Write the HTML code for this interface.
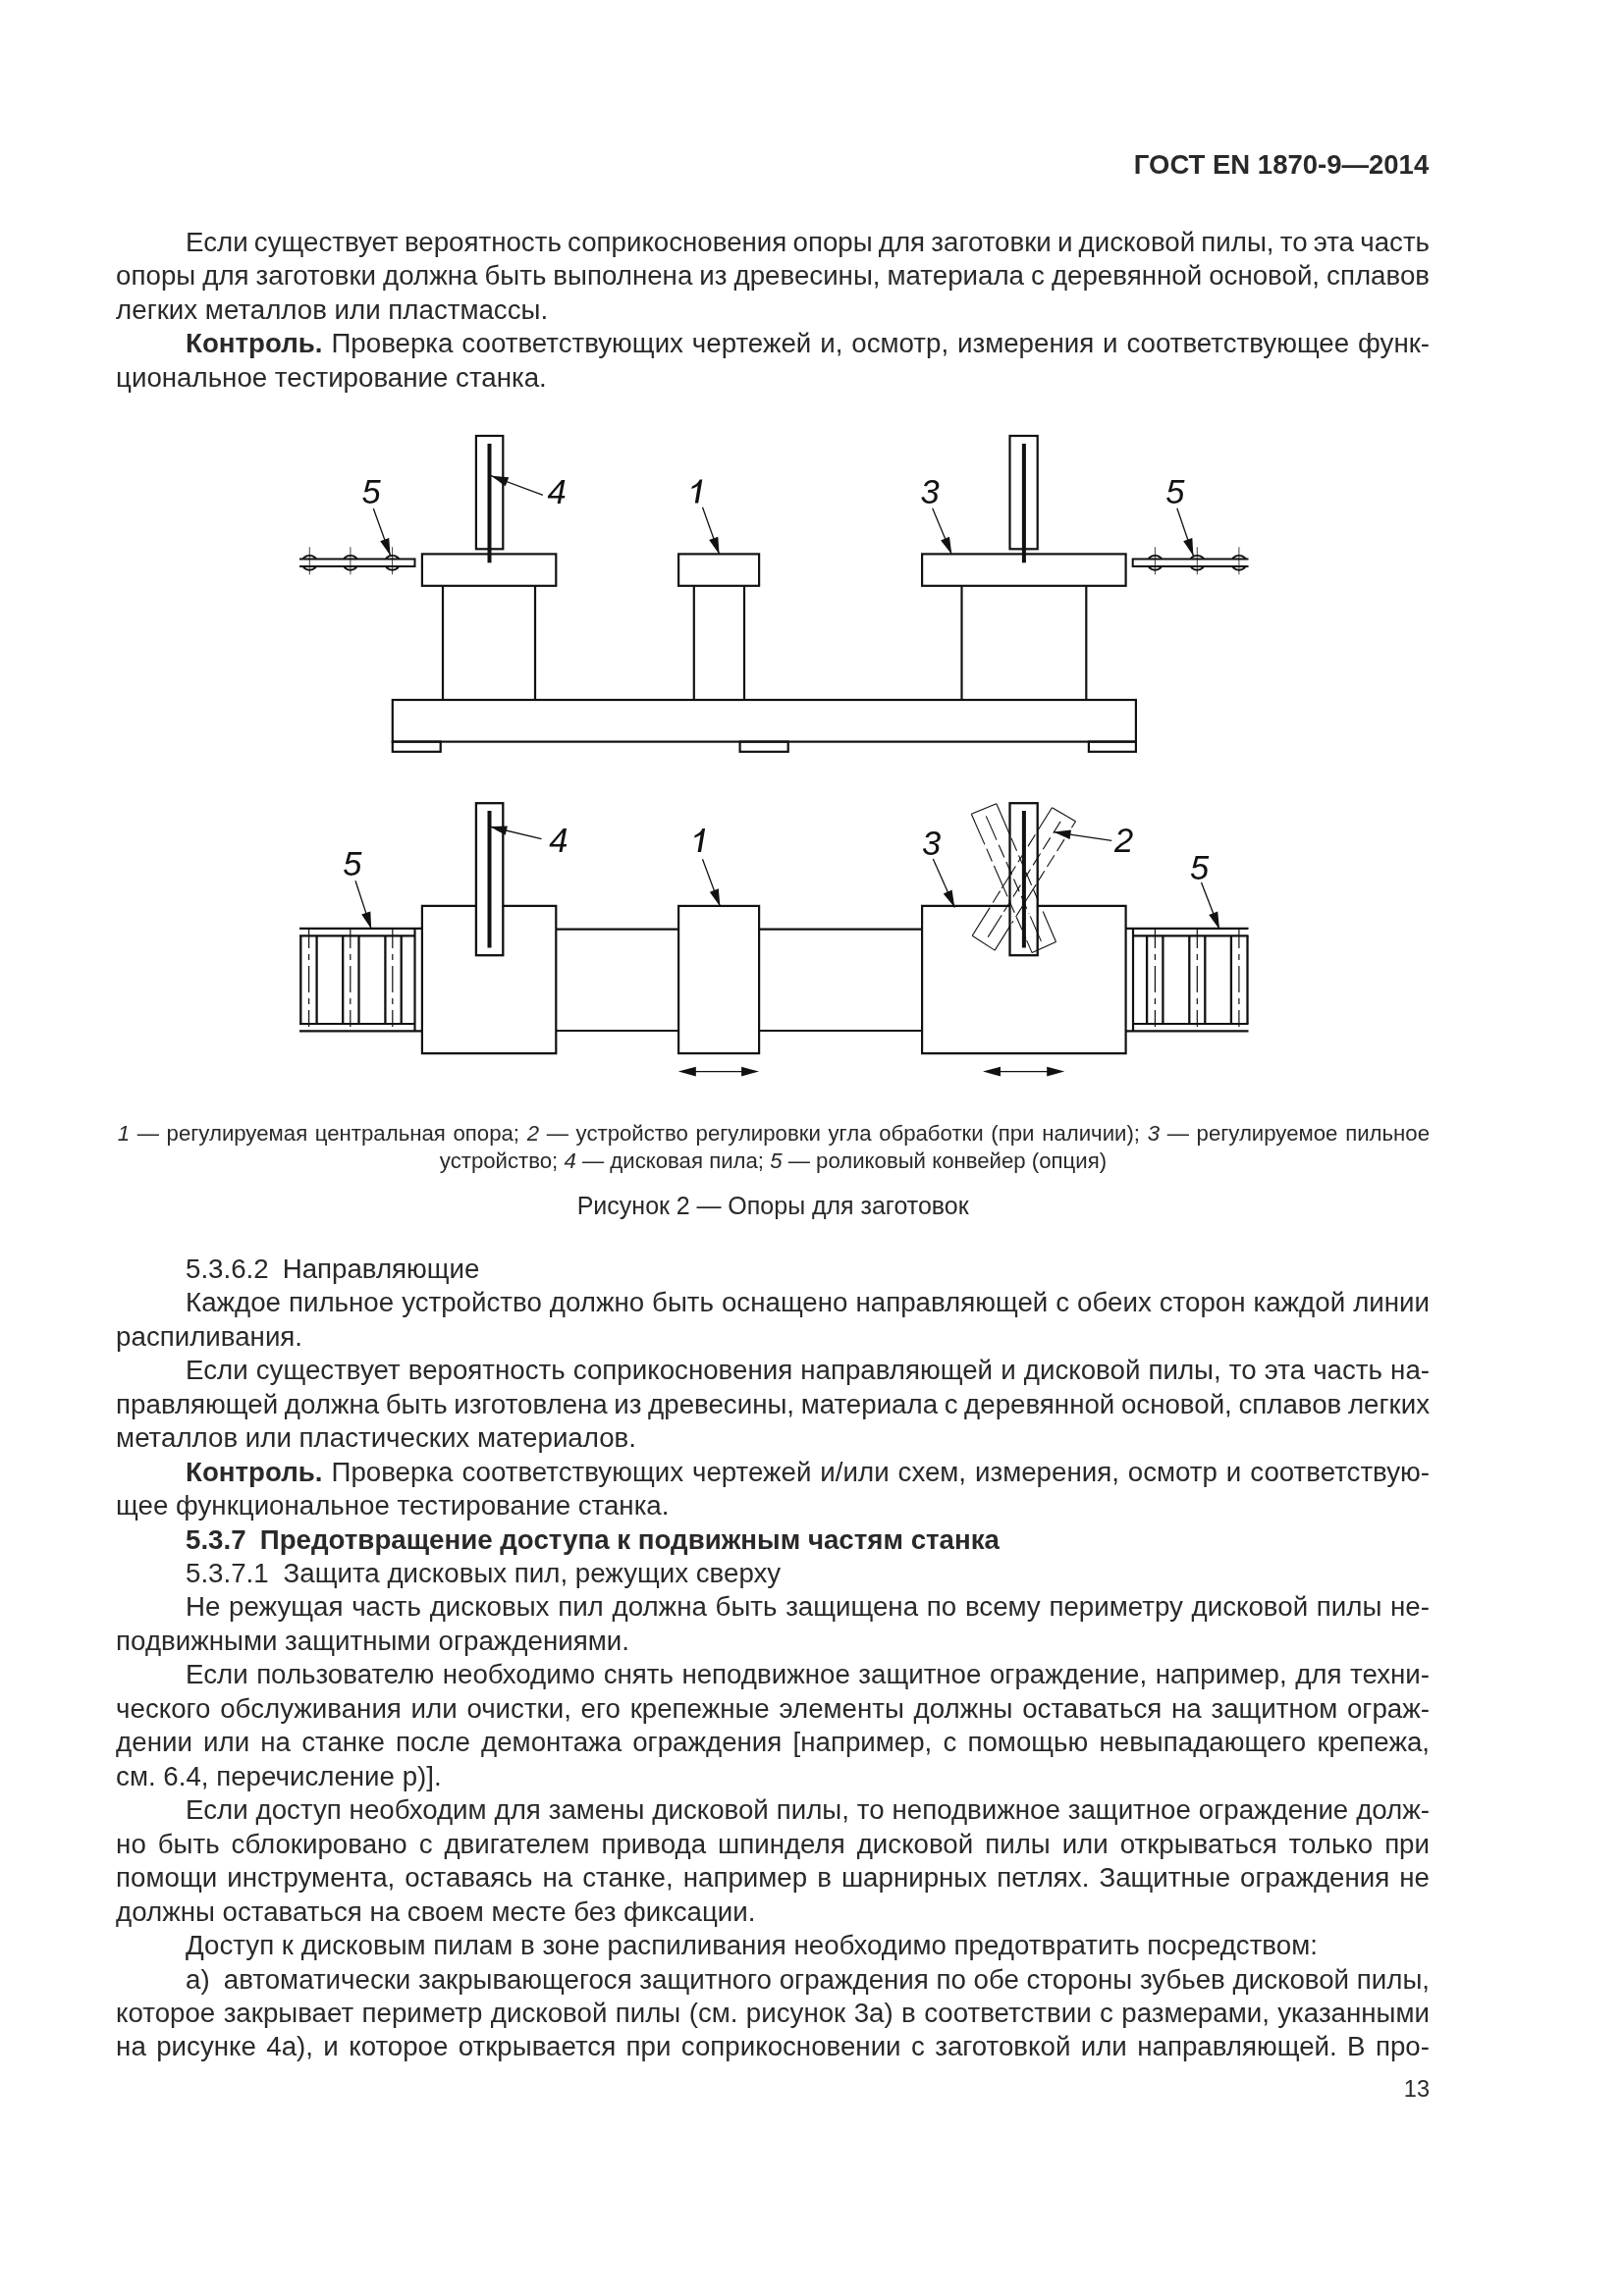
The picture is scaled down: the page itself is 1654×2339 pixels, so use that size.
<!DOCTYPE html>
<html lang="ru"><head><meta charset="utf-8"><title>ГОСТ EN 1870-9—2014</title>
<style>
html,body{margin:0;padding:0;background:#fff;}
body{width:1654px;height:2339px;position:relative;overflow:hidden;font-family:"Liberation Sans",sans-serif;color:#2b2829;}
.ln{position:absolute;white-space:nowrap;line-height:1;margin:0;}
svg{position:absolute;left:0;top:0;}
svg text{font-family:"Liberation Sans",sans-serif;font-style:italic;font-size:34.5px;fill:#111;}
#page{position:absolute;left:0;top:0;width:1654px;height:2339px;will-change:transform;}
</style></head><body><div id="page">
<svg width="1654" height="2339" viewBox="0 0 1654 2339">
<rect x="399.8" y="713.0" width="757.1" height="42.6" fill="none" stroke="#111" stroke-width="2.2"/>
<rect x="399.8" y="755.6" width="48.9" height="10.2" fill="none" stroke="#111" stroke-width="2.2"/>
<rect x="753.6" y="755.6" width="49.1" height="10.2" fill="none" stroke="#111" stroke-width="2.2"/>
<rect x="1108.9" y="755.6" width="48.0" height="10.2" fill="none" stroke="#111" stroke-width="2.2"/>
<line x1="451.0" y1="596.8" x2="451.0" y2="713.0" stroke="#111" stroke-width="2.2" />
<line x1="545.0" y1="596.8" x2="545.0" y2="713.0" stroke="#111" stroke-width="2.2" />
<line x1="706.8" y1="596.8" x2="706.8" y2="713.0" stroke="#111" stroke-width="2.2" />
<line x1="758.0" y1="596.8" x2="758.0" y2="713.0" stroke="#111" stroke-width="2.2" />
<line x1="979.5" y1="596.8" x2="979.5" y2="713.0" stroke="#111" stroke-width="2.2" />
<line x1="1106.3" y1="596.8" x2="1106.3" y2="713.0" stroke="#111" stroke-width="2.2" />
<rect x="429.9" y="564.4" width="136.4" height="32.4" fill="none" stroke="#111" stroke-width="2.2"/>
<rect x="691.1" y="564.4" width="82.0" height="32.4" fill="none" stroke="#111" stroke-width="2.2"/>
<rect x="939.1" y="564.4" width="207.5" height="32.4" fill="none" stroke="#111" stroke-width="2.2"/>
<rect x="484.9" y="444.0" width="27.4" height="115.3" fill="none" stroke="#111" stroke-width="2.2"/>
<line x1="498.5" y1="452.0" x2="498.5" y2="573.3" stroke="#111" stroke-width="4" />
<rect x="1028.5" y="444.0" width="28.2" height="115.3" fill="none" stroke="#111" stroke-width="2.2"/>
<line x1="1042.9" y1="452.0" x2="1042.9" y2="573.3" stroke="#111" stroke-width="4" />
<ellipse cx="315.3" cy="573.3" rx="7.9" ry="7.4" fill="none" stroke="#111" stroke-width="1.9"/>
<ellipse cx="356.9" cy="573.3" rx="7.9" ry="7.4" fill="none" stroke="#111" stroke-width="1.9"/>
<ellipse cx="399.6" cy="573.3" rx="7.9" ry="7.4" fill="none" stroke="#111" stroke-width="1.9"/>
<path d="M305,569.6 H422.5 V576.9 H305" fill="#fff" stroke="#111" stroke-width="2"/>
<line x1="315.3" y1="557.3" x2="315.3" y2="585.3" stroke="#111" stroke-width="0.8" />
<line x1="356.9" y1="557.3" x2="356.9" y2="585.3" stroke="#111" stroke-width="0.8" />
<line x1="399.6" y1="557.3" x2="399.6" y2="585.3" stroke="#111" stroke-width="0.8" />
<ellipse cx="1176.4" cy="573.3" rx="7.9" ry="7.4" fill="none" stroke="#111" stroke-width="1.9"/>
<ellipse cx="1219.3" cy="573.3" rx="7.9" ry="7.4" fill="none" stroke="#111" stroke-width="1.9"/>
<ellipse cx="1261.9" cy="573.3" rx="7.9" ry="7.4" fill="none" stroke="#111" stroke-width="1.9"/>
<path d="M1271.5,569.6 H1153.7 V576.9 H1271.5" fill="#fff" stroke="#111" stroke-width="2"/>
<line x1="1176.4" y1="557.3" x2="1176.4" y2="585.3" stroke="#111" stroke-width="0.8" />
<line x1="1219.3" y1="557.3" x2="1219.3" y2="585.3" stroke="#111" stroke-width="0.8" />
<line x1="1261.9" y1="557.3" x2="1261.9" y2="585.3" stroke="#111" stroke-width="0.8" />
<text x="368.5" y="513.3">5</text>
<line x1="380.3" y1="518.0" x2="397.6" y2="566.0" stroke="#111" stroke-width="1.3" />
<polygon points="397.6,566.0 387.2,551.2 396.2,547.9" fill="#111"/>
<text x="557.5" y="513.3">4</text>
<line x1="552.9" y1="504.4" x2="500.1" y2="484.7" stroke="#111" stroke-width="1.3" />
<polygon points="500.1,484.7 518.2,486.3 514.8,495.3" fill="#111"/>
<path transform="translate(707.8,512.4)" fill="#111" d="M7.5,-24 L3.4,0 L0,0 L2.9,-17.3 C1.0,-15.9 -1.2,-14.9 -3.5,-14.3 L-3.0,-16.9 C0.4,-18.3 3.4,-21 4.9,-24 Z"/>
<line x1="715.5" y1="516.7" x2="732.6" y2="564.8" stroke="#111" stroke-width="1.3" />
<polygon points="732.6,564.8 722.2,549.9 731.3,546.7" fill="#111"/>
<text x="937.5" y="513.3">3</text>
<line x1="949.7" y1="517.7" x2="969.3" y2="564.7" stroke="#111" stroke-width="1.3" />
<polygon points="969.3,564.7 958.1,550.4 967.0,546.7" fill="#111"/>
<text x="1187.3" y="513.3">5</text>
<line x1="1198.8" y1="517.7" x2="1215.4" y2="566.2" stroke="#111" stroke-width="1.3" />
<polygon points="1215.4,566.2 1205.2,551.2 1214.3,548.1" fill="#111"/>
<line x1="566.3" y1="946.6" x2="691.1" y2="946.6" stroke="#111" stroke-width="2.2" />
<line x1="566.3" y1="1050.0" x2="691.1" y2="1050.0" stroke="#111" stroke-width="2.2" />
<line x1="773.1" y1="946.6" x2="939.1" y2="946.6" stroke="#111" stroke-width="2.2" />
<line x1="773.1" y1="1050.0" x2="939.1" y2="1050.0" stroke="#111" stroke-width="2.2" />
<rect x="691.1" y="922.9" width="82.0" height="150.2" fill="none" stroke="#111" stroke-width="2.2"/>
<path d="M484.9,922.9 H429.9 V1073.1 H566.3 V922.9 H512.3" fill="none" stroke="#111" stroke-width="2.2"/>
<path d="M1028.5,922.9 H939.1 V1073.1 H1146.6 V922.9 H1056.7" fill="none" stroke="#111" stroke-width="2.2"/>
<line x1="305.0" y1="945.9" x2="429.9" y2="945.9" stroke="#111" stroke-width="2.2" />
<line x1="305.0" y1="1050.3" x2="429.9" y2="1050.3" stroke="#111" stroke-width="2.2" />
<line x1="305.0" y1="953.3" x2="422.5" y2="953.3" stroke="#111" stroke-width="2.2" />
<line x1="305.0" y1="1043.0" x2="422.5" y2="1043.0" stroke="#111" stroke-width="2.2" />
<line x1="422.5" y1="945.9" x2="422.5" y2="1050.3" stroke="#111" stroke-width="2.2" />
<line x1="306.3" y1="953.3" x2="306.3" y2="1043.0" stroke="#111" stroke-width="2.3" />
<line x1="322.6" y1="953.3" x2="322.6" y2="1043.0" stroke="#111" stroke-width="2.3" />
<line x1="349.2" y1="953.3" x2="349.2" y2="1043.0" stroke="#111" stroke-width="2.3" />
<line x1="365.5" y1="953.3" x2="365.5" y2="1043.0" stroke="#111" stroke-width="2.3" />
<line x1="392.4" y1="953.3" x2="392.4" y2="1043.0" stroke="#111" stroke-width="2.3" />
<line x1="408.7" y1="953.3" x2="408.7" y2="1043.0" stroke="#111" stroke-width="2.3" />
<line x1="314.6" y1="947.0" x2="314.6" y2="1046.0" stroke="#111" stroke-width="1.2" stroke-dasharray="27 6 6 6" stroke-dashoffset="8"/>
<line x1="356.8" y1="947.0" x2="356.8" y2="1046.0" stroke="#111" stroke-width="1.2" stroke-dasharray="27 6 6 6" stroke-dashoffset="8"/>
<line x1="399.8" y1="947.0" x2="399.8" y2="1046.0" stroke="#111" stroke-width="1.2" stroke-dasharray="27 6 6 6" stroke-dashoffset="8"/>
<line x1="1146.6" y1="945.9" x2="1271.5" y2="945.9" stroke="#111" stroke-width="2.2" />
<line x1="1146.6" y1="1050.3" x2="1271.5" y2="1050.3" stroke="#111" stroke-width="2.2" />
<line x1="1154.0" y1="953.3" x2="1271.5" y2="953.3" stroke="#111" stroke-width="2.2" />
<line x1="1154.0" y1="1043.0" x2="1271.5" y2="1043.0" stroke="#111" stroke-width="2.2" />
<line x1="1154.0" y1="945.9" x2="1154.0" y2="1050.3" stroke="#111" stroke-width="2.2" />
<line x1="1168.1" y1="953.3" x2="1168.1" y2="1043.0" stroke="#111" stroke-width="2.3" />
<line x1="1184.4" y1="953.3" x2="1184.4" y2="1043.0" stroke="#111" stroke-width="2.3" />
<line x1="1211.3" y1="953.3" x2="1211.3" y2="1043.0" stroke="#111" stroke-width="2.3" />
<line x1="1227.3" y1="953.3" x2="1227.3" y2="1043.0" stroke="#111" stroke-width="2.3" />
<line x1="1253.9" y1="953.3" x2="1253.9" y2="1043.0" stroke="#111" stroke-width="2.3" />
<line x1="1270.5" y1="953.3" x2="1270.5" y2="1043.0" stroke="#111" stroke-width="2.3" />
<line x1="1176.4" y1="947.0" x2="1176.4" y2="1046.0" stroke="#111" stroke-width="1.2" stroke-dasharray="27 6 6 6" stroke-dashoffset="8"/>
<line x1="1219.3" y1="947.0" x2="1219.3" y2="1046.0" stroke="#111" stroke-width="1.2" stroke-dasharray="27 6 6 6" stroke-dashoffset="8"/>
<line x1="1261.9" y1="947.0" x2="1261.9" y2="1046.0" stroke="#111" stroke-width="1.2" stroke-dasharray="27 6 6 6" stroke-dashoffset="8"/>
<line x1="989.3" y1="829.3" x2="1014.8" y2="818.7" stroke="#111" stroke-width="1.1" />
<line x1="1051.1" y1="970.6" x2="1075.5" y2="959.5" stroke="#111" stroke-width="1.1" />
<line x1="1014.8" y1="818.7" x2="1028.2" y2="849.7" stroke="#111" stroke-width="1.1" />
<line x1="1030.0" y1="853.9" x2="1057.3" y2="917.3" stroke="#111" stroke-width="1.1" stroke-dasharray="14 5"/>
<line x1="1062.2" y1="928.5" x2="1075.5" y2="959.5" stroke="#111" stroke-width="1.1" />
<line x1="989.3" y1="829.3" x2="1002.9" y2="860.4" stroke="#111" stroke-width="1.1" />
<line x1="1004.8" y1="864.6" x2="1014.0" y2="885.8" stroke="#111" stroke-width="1.1" stroke-dasharray="14 5"/>
<line x1="1014.0" y1="885.8" x2="1026.1" y2="913.4" stroke="#111" stroke-width="1.1" />
<line x1="1027.6" y1="916.9" x2="1045.0" y2="956.4" stroke="#111" stroke-width="1.1" stroke-dasharray="14 5"/>
<line x1="1045.6" y1="957.9" x2="1051.1" y2="970.6" stroke="#111" stroke-width="1.1" />
<line x1="1004.3" y1="831.4" x2="1015.0" y2="855.6" stroke="#111" stroke-width="1.1" />
<line x1="1017.2" y1="860.7" x2="1048.0" y2="930.8" stroke="#111" stroke-width="1.1" stroke-dasharray="14 5"/>
<line x1="1049.2" y1="933.4" x2="1060.4" y2="958.9" stroke="#111" stroke-width="1.1" />
<line x1="1071.5" y1="822.8" x2="1095.5" y2="836.7" stroke="#111" stroke-width="1.1" />
<line x1="990.2" y1="953.3" x2="1013.2" y2="968.1" stroke="#111" stroke-width="1.1" />
<line x1="1071.5" y1="822.8" x2="1056.8" y2="846.3" stroke="#111" stroke-width="1.1" />
<line x1="1054.4" y1="850.2" x2="1029.2" y2="890.7" stroke="#111" stroke-width="1.1" stroke-dasharray="14 5"/>
<line x1="1028.4" y1="892.0" x2="1020.2" y2="905.0" stroke="#111" stroke-width="1.1" />
<line x1="1018.6" y1="907.6" x2="1008.9" y2="923.3" stroke="#111" stroke-width="1.1" stroke-dasharray="14 5"/>
<line x1="1008.1" y1="924.6" x2="990.2" y2="953.3" stroke="#111" stroke-width="1.1" />
<line x1="1095.5" y1="836.7" x2="1091.4" y2="843.3" stroke="#111" stroke-width="1.1" />
<line x1="1084.0" y1="855.1" x2="1057.6" y2="897.1" stroke="#111" stroke-width="1.1" stroke-dasharray="14 5"/>
<line x1="1055.2" y1="901.1" x2="1043.6" y2="919.5" stroke="#111" stroke-width="1.1" />
<line x1="1042.0" y1="922.1" x2="1030.5" y2="940.5" stroke="#111" stroke-width="1.1" stroke-dasharray="14 5"/>
<line x1="1028.8" y1="943.1" x2="1013.2" y2="968.1" stroke="#111" stroke-width="1.1" />
<line x1="1080.1" y1="836.9" x2="1072.7" y2="848.7" stroke="#111" stroke-width="1.1" />
<line x1="1069.7" y1="853.4" x2="1022.4" y2="928.7" stroke="#111" stroke-width="1.1" stroke-dasharray="14 5"/>
<line x1="1020.2" y1="932.2" x2="1006.2" y2="954.6" stroke="#111" stroke-width="1.1" />
<rect x="484.9" y="818.2" width="27.4" height="155.0" fill="none" stroke="#111" stroke-width="2.3"/>
<line x1="498.5" y1="825.9" x2="498.5" y2="965.5" stroke="#111" stroke-width="4" />
<rect x="1028.5" y="818.2" width="28.2" height="155.0" fill="none" stroke="#111" stroke-width="2.3"/>
<line x1="1042.9" y1="825.9" x2="1042.9" y2="965.5" stroke="#111" stroke-width="4" />
<text x="349.3" y="892.3">5</text>
<line x1="362.0" y1="897.3" x2="378.2" y2="946.6" stroke="#111" stroke-width="1.3" />
<polygon points="378.2,946.6 368.2,931.5 377.3,928.5" fill="#111"/>
<text x="559.2" y="868.3">4</text>
<line x1="551.5" y1="854.7" x2="498.8" y2="842.0" stroke="#111" stroke-width="1.3" />
<polygon points="498.8,842.0 516.9,841.4 514.7,850.8" fill="#111"/>
<path transform="translate(710.6,867.9)" fill="#111" d="M7.5,-24 L3.4,0 L0,0 L2.9,-17.3 C1.0,-15.9 -1.2,-14.9 -3.5,-14.3 L-3.0,-16.9 C0.4,-18.3 3.4,-21 4.9,-24 Z"/>
<line x1="715.5" y1="875.2" x2="733.4" y2="923.4" stroke="#111" stroke-width="1.3" />
<polygon points="733.4,923.4 722.8,908.7 731.8,905.3" fill="#111"/>
<text x="939.0" y="870.5">3</text>
<line x1="950.3" y1="874.9" x2="972.3" y2="924.5" stroke="#111" stroke-width="1.3" />
<polygon points="972.3,924.5 960.8,910.4 969.6,906.6" fill="#111"/>
<text x="1135.0" y="868.3">2</text>
<line x1="1132.2" y1="856.3" x2="1073.0" y2="847.6" stroke="#111" stroke-width="1.3" />
<polygon points="1073.0,847.6 1091.0,845.4 1089.6,854.9" fill="#111"/>
<text x="1211.9" y="895.5">5</text>
<line x1="1223.5" y1="898.9" x2="1242.0" y2="946.7" stroke="#111" stroke-width="1.3" />
<polygon points="1242.0,946.7 1231.2,932.1 1240.2,928.6" fill="#111"/>
<line x1="698.8" y1="1091.6" x2="765.1" y2="1091.6" stroke="#111" stroke-width="1.3" />
<polygon points="690.8,1091.6 708.8,1086.8 708.8,1096.4" fill="#111"/>
<polygon points="773.1,1091.6 755.1,1096.4 755.1,1086.8" fill="#111"/>
<line x1="1009.0" y1="1091.6" x2="1076.2" y2="1091.6" stroke="#111" stroke-width="1.3" />
<polygon points="1001.0,1091.6 1019.0,1086.8 1019.0,1096.4" fill="#111"/>
<polygon points="1084.2,1091.6 1066.2,1096.4 1066.2,1086.8" fill="#111"/>
</svg>
<div class="ln" style="top:153.52px;font-size:27.5px;left:1154.81px;"><b>ГОСТ EN 1870-9—2014</b></div>
<div class="ln" style="top:232.85px;font-size:27.7px;left:189.00px;word-spacing:-1.492px;">Если существует вероятность соприкосновения опоры для заготовки и дисковой пилы, то эта часть</div>
<div class="ln" style="top:267.31px;font-size:27.7px;left:118.10px;word-spacing:-0.639px;">опоры для заготовки должна быть выполнена из древесины, материала с деревянной основой, сплавов</div>
<div class="ln" style="top:301.77px;font-size:27.7px;left:118.10px;">легких металлов или пластмассы.</div>
<div class="ln" style="top:336.23px;font-size:27.7px;left:189.00px;word-spacing:1.205px;"><b>Контроль.</b> Проверка соответствующих чертежей и, осмотр, измерения и соответствующее функ-</div>
<div class="ln" style="top:370.69px;font-size:27.7px;left:118.10px;">циональное тестирование станка.</div>
<div class="ln" style="top:1144.10px;font-size:22.2px;left:119.70px;word-spacing:1.503px;"><i>1</i> — регулируемая центральная опора; <i>2</i> — устройство регулировки угла обработки (при наличии); <i>3</i> — регулируемое пильное</div>
<div class="ln" style="top:1172.40px;font-size:22.2px;left:447.80px;word-spacing:0.009px;">устройство; <i>4</i> — дисковая пила; <i>5</i> — роликовый конвейер (опция)</div>
<div class="ln" style="top:1216.03px;font-size:25px;left:587.70px;word-spacing:-0.122px;">Рисунок 2 — Опоры для заготовок</div>
<div class="ln" style="top:1278.85px;font-size:27.7px;left:189.00px;">5.3.6.2<span class="g" style="margin-left:-1.4px"></span>&nbsp; Направляющие</div>
<div class="ln" style="top:1313.31px;font-size:27.7px;left:189.00px;word-spacing:0.312px;">Каждое пильное устройство должно быть оснащено направляющей с обеих сторон каждой линии</div>
<div class="ln" style="top:1347.77px;font-size:27.7px;left:118.10px;">распиливания.</div>
<div class="ln" style="top:1382.23px;font-size:27.7px;left:189.00px;word-spacing:0.446px;">Если существует вероятность соприкосновения направляющей и дисковой пилы, то эта часть на-</div>
<div class="ln" style="top:1416.69px;font-size:27.7px;left:118.10px;word-spacing:-1.086px;">правляющей должна быть изготовлена из древесины, материала с деревянной основой, сплавов легких</div>
<div class="ln" style="top:1451.15px;font-size:27.7px;left:118.10px;">металлов или пластических материалов.</div>
<div class="ln" style="top:1485.61px;font-size:27.7px;left:189.00px;word-spacing:1.248px;"><b>Контроль.</b> Проверка соответствующих чертежей и/или схем, измерения, осмотр и соответствую-</div>
<div class="ln" style="top:1520.07px;font-size:27.7px;left:118.10px;">щее функциональное тестирование станка.</div>
<div class="ln" style="top:1554.53px;font-size:27.7px;left:189.00px;"><b>5.3.7<span class="g" style="margin-left:-1.2px"></span>&nbsp; Предотвращение доступа к подвижным частям станка</b></div>
<div class="ln" style="top:1588.99px;font-size:27.7px;left:189.00px;">5.3.7.1<span class="g" style="margin-left:-0.5px"></span>&nbsp; Защита дисковых пил, режущих сверху</div>
<div class="ln" style="top:1623.45px;font-size:27.7px;left:189.00px;word-spacing:1.037px;">Не режущая часть дисковых пил должна быть защищена по всему периметру дисковой пилы не-</div>
<div class="ln" style="top:1657.91px;font-size:27.7px;left:118.10px;">подвижными защитными ограждениями.</div>
<div class="ln" style="top:1692.37px;font-size:27.7px;left:189.00px;word-spacing:0.812px;">Если пользователю необходимо снять неподвижное защитное ограждение, например, для техни-</div>
<div class="ln" style="top:1726.83px;font-size:27.7px;left:118.10px;word-spacing:2.046px;">ческого обслуживания или очистки, его крепежные элементы должны оставаться на защитном ограж-</div>
<div class="ln" style="top:1761.29px;font-size:27.7px;left:118.10px;word-spacing:3.487px;">дении или на станке после демонтажа ограждения [например, с помощью невыпадающего крепежа,</div>
<div class="ln" style="top:1795.75px;font-size:27.7px;left:118.10px;">см. 6.4, перечисление p)].</div>
<div class="ln" style="top:1830.21px;font-size:27.7px;left:189.00px;word-spacing:0.190px;">Если доступ необходим для замены дисковой пилы, то неподвижное защитное ограждение долж-</div>
<div class="ln" style="top:1864.67px;font-size:27.7px;left:118.10px;word-spacing:4.252px;">но быть сблокировано с двигателем привода шпинделя дисковой пилы или открываться только при</div>
<div class="ln" style="top:1899.13px;font-size:27.7px;left:118.10px;word-spacing:2.362px;">помощи инструмента, оставаясь на станке, например в шарнирных петлях. Защитные ограждения не</div>
<div class="ln" style="top:1933.59px;font-size:27.7px;left:118.10px;">должны оставаться на своем месте без фиксации.</div>
<div class="ln" style="top:1968.05px;font-size:27.7px;left:189.00px;">Доступ к дисковым пилам в зоне распиливания необходимо предотвратить посредством:</div>
<div class="ln" style="top:2002.51px;font-size:27.7px;left:189.00px;word-spacing:0.004px;">а)<span class="g" style="margin-left:-1.2px"></span>&nbsp; автоматически закрывающегося защитного ограждения по обе стороны зубьев дисковой пилы,</div>
<div class="ln" style="top:2036.97px;font-size:27.7px;left:118.10px;word-spacing:0.712px;">которое закрывает периметр дисковой пилы (см. рисунок 3а) в соответствии с размерами, указанными</div>
<div class="ln" style="top:2071.43px;font-size:27.7px;left:118.10px;word-spacing:2.703px;">на рисунке 4а), и которое открывается при соприкосновении с заготовкой или направляющей. В про-</div>
<div class="ln" style="top:2116.70px;font-size:23.5px;left:1429.86px;">13</div>
</div></body></html>
